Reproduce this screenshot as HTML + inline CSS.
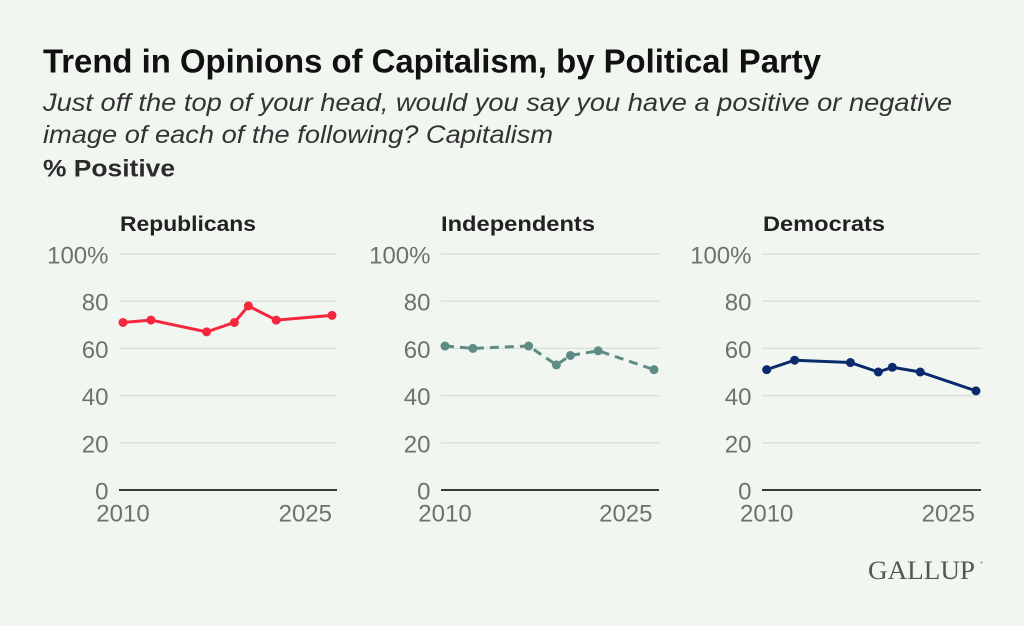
<!DOCTYPE html>
<html>
<head>
<meta charset="utf-8">
<style>
  html, body { margin:0; padding:0; background:#f1f7f0; }
  svg { display:block; }
</style>
</head>
<body>
<svg width="1024" height="626" viewBox="0 0 1024 626" xmlns="http://www.w3.org/2000/svg">
  <rect x="0" y="0" width="1024" height="626" fill="#f1f7f0"/>

  <!-- Title block -->
  <text x="43" y="72.5" font-family="Liberation Sans, sans-serif" font-weight="bold" font-size="33" fill="#111" textLength="778" lengthAdjust="spacingAndGlyphs">Trend in Opinions of Capitalism, by Political Party</text>
  <text x="43" y="111" font-family="Liberation Sans, sans-serif" font-style="italic" font-size="25" fill="#333" textLength="909" lengthAdjust="spacingAndGlyphs">Just off the top of your head, would you say you have a positive or negative</text>
  <text x="43" y="143" font-family="Liberation Sans, sans-serif" font-style="italic" font-size="25" fill="#333" textLength="510" lengthAdjust="spacingAndGlyphs">image of each of the following? Capitalism</text>
  <text x="43" y="176.5" font-family="Liberation Sans, sans-serif" font-weight="bold" font-size="24" fill="#2b2b2b" textLength="132" lengthAdjust="spacingAndGlyphs">% Positive</text>

  <g font-family="Liberation Sans, sans-serif">
    <!-- Panel titles -->
    <text x="120" y="231" font-weight="bold" font-size="21" fill="#222" textLength="136" lengthAdjust="spacingAndGlyphs">Republicans</text>
    <text x="441" y="231" font-weight="bold" font-size="21" fill="#222" textLength="154" lengthAdjust="spacingAndGlyphs">Independents</text>
    <text x="763" y="231" font-weight="bold" font-size="21" fill="#222" textLength="122" lengthAdjust="spacingAndGlyphs">Democrats</text>

    <!-- Gridlines -->
    <g stroke="#dcdfdb" stroke-width="1.5">
      <line x1="119" x2="337" y1="254" y2="254"/>
      <line x1="119" x2="337" y1="301.2" y2="301.2"/>
      <line x1="119" x2="337" y1="348.4" y2="348.4"/>
      <line x1="119" x2="337" y1="395.6" y2="395.6"/>
      <line x1="119" x2="337" y1="442.8" y2="442.8"/>

      <line x1="441" x2="659" y1="254" y2="254"/>
      <line x1="441" x2="659" y1="301.2" y2="301.2"/>
      <line x1="441" x2="659" y1="348.4" y2="348.4"/>
      <line x1="441" x2="659" y1="395.6" y2="395.6"/>
      <line x1="441" x2="659" y1="442.8" y2="442.8"/>

      <line x1="762" x2="981" y1="254" y2="254"/>
      <line x1="762" x2="981" y1="301.2" y2="301.2"/>
      <line x1="762" x2="981" y1="348.4" y2="348.4"/>
      <line x1="762" x2="981" y1="395.6" y2="395.6"/>
      <line x1="762" x2="981" y1="442.8" y2="442.8"/>
    </g>
    <!-- Zero axis -->
    <g stroke="#3a3a3a" stroke-width="2">
      <line x1="119" x2="337" y1="490" y2="490"/>
      <line x1="441" x2="659" y1="490" y2="490"/>
      <line x1="762" x2="981" y1="490" y2="490"/>
    </g>

    <!-- Y tick labels -->
    <g font-size="24" fill="#707070" text-anchor="end">
      <text x="108.5" y="263.5">100%</text>
      <text x="108.5" y="310.7">80</text>
      <text x="108.5" y="357.9">60</text>
      <text x="108.5" y="405.1">40</text>
      <text x="108.5" y="452.3">20</text>
      <text x="108.5" y="499.5">0</text>

      <text x="430.5" y="263.5">100%</text>
      <text x="430.5" y="310.7">80</text>
      <text x="430.5" y="357.9">60</text>
      <text x="430.5" y="405.1">40</text>
      <text x="430.5" y="452.3">20</text>
      <text x="430.5" y="499.5">0</text>

      <text x="751.5" y="263.5">100%</text>
      <text x="751.5" y="310.7">80</text>
      <text x="751.5" y="357.9">60</text>
      <text x="751.5" y="405.1">40</text>
      <text x="751.5" y="452.3">20</text>
      <text x="751.5" y="499.5">0</text>
    </g>

    <!-- X tick labels -->
    <g font-size="24" fill="#707070">
      <text x="123" y="521.5" text-anchor="middle">2010</text>
      <text x="332" y="521.5" text-anchor="end">2025</text>
      <text x="445" y="521.5" text-anchor="middle">2010</text>
      <text x="652.5" y="521.5" text-anchor="end">2025</text>
      <text x="766.7" y="521.5" text-anchor="middle">2010</text>
      <text x="975" y="521.5" text-anchor="end">2025</text>
    </g>
  </g>

  <!-- Republicans series -->
  <polyline fill="none" stroke="#f5263d" stroke-width="3" stroke-linejoin="round" stroke-linecap="round"
    points="123,322.44 150.9,320.08 206.6,331.88 234.4,322.44 248.4,305.92 276.2,320.08 332,315.36"/>
  <g fill="#f5263d">
    <circle cx="123" cy="322.44" r="4.5"/>
    <circle cx="150.9" cy="320.08" r="4.5"/>
    <circle cx="206.6" cy="331.88" r="4.5"/>
    <circle cx="234.4" cy="322.44" r="4.5"/>
    <circle cx="248.4" cy="305.92" r="4.5"/>
    <circle cx="276.2" cy="320.08" r="4.5"/>
    <circle cx="332" cy="315.36" r="4.5"/>
  </g>

  <!-- Independents series -->
  <polyline fill="none" stroke="#5e8c85" stroke-width="3" stroke-dasharray="9 6" stroke-linejoin="round"
    points="445,346.04 472.9,348.4 528.6,346.04 556.4,364.92 570.4,355.48 598.2,350.76 654,369.64"/>
  <g fill="#5e8c85">
    <circle cx="445" cy="346.04" r="4.5"/>
    <circle cx="472.9" cy="348.4" r="4.5"/>
    <circle cx="528.6" cy="346.04" r="4.5"/>
    <circle cx="556.4" cy="364.92" r="4.5"/>
    <circle cx="570.4" cy="355.48" r="4.5"/>
    <circle cx="598.2" cy="350.76" r="4.5"/>
    <circle cx="654" cy="369.64" r="4.5"/>
  </g>

  <!-- Democrats series -->
  <polyline fill="none" stroke="#0b2a6e" stroke-width="3" stroke-linejoin="round" stroke-linecap="round"
    points="766.7,369.64 794.6,360.2 850.4,362.56 878.3,372 892.3,367.28 920.2,372 976,390.88"/>
  <g fill="#0b2a6e">
    <circle cx="766.7" cy="369.64" r="4.5"/>
    <circle cx="794.6" cy="360.2" r="4.5"/>
    <circle cx="850.4" cy="362.56" r="4.5"/>
    <circle cx="878.3" cy="372" r="4.5"/>
    <circle cx="892.3" cy="367.28" r="4.5"/>
    <circle cx="920.2" cy="372" r="4.5"/>
    <circle cx="976" cy="390.88" r="4.5"/>
  </g>

  <!-- Gallup logo -->
  <text x="868" y="579" font-family="Liberation Serif, serif" font-size="26" fill="#555" textLength="107" lengthAdjust="spacingAndGlyphs">GALLUP</text>
  <circle cx="981.5" cy="562.5" r="1" fill="#888"/>
</svg>
</body>
</html>
